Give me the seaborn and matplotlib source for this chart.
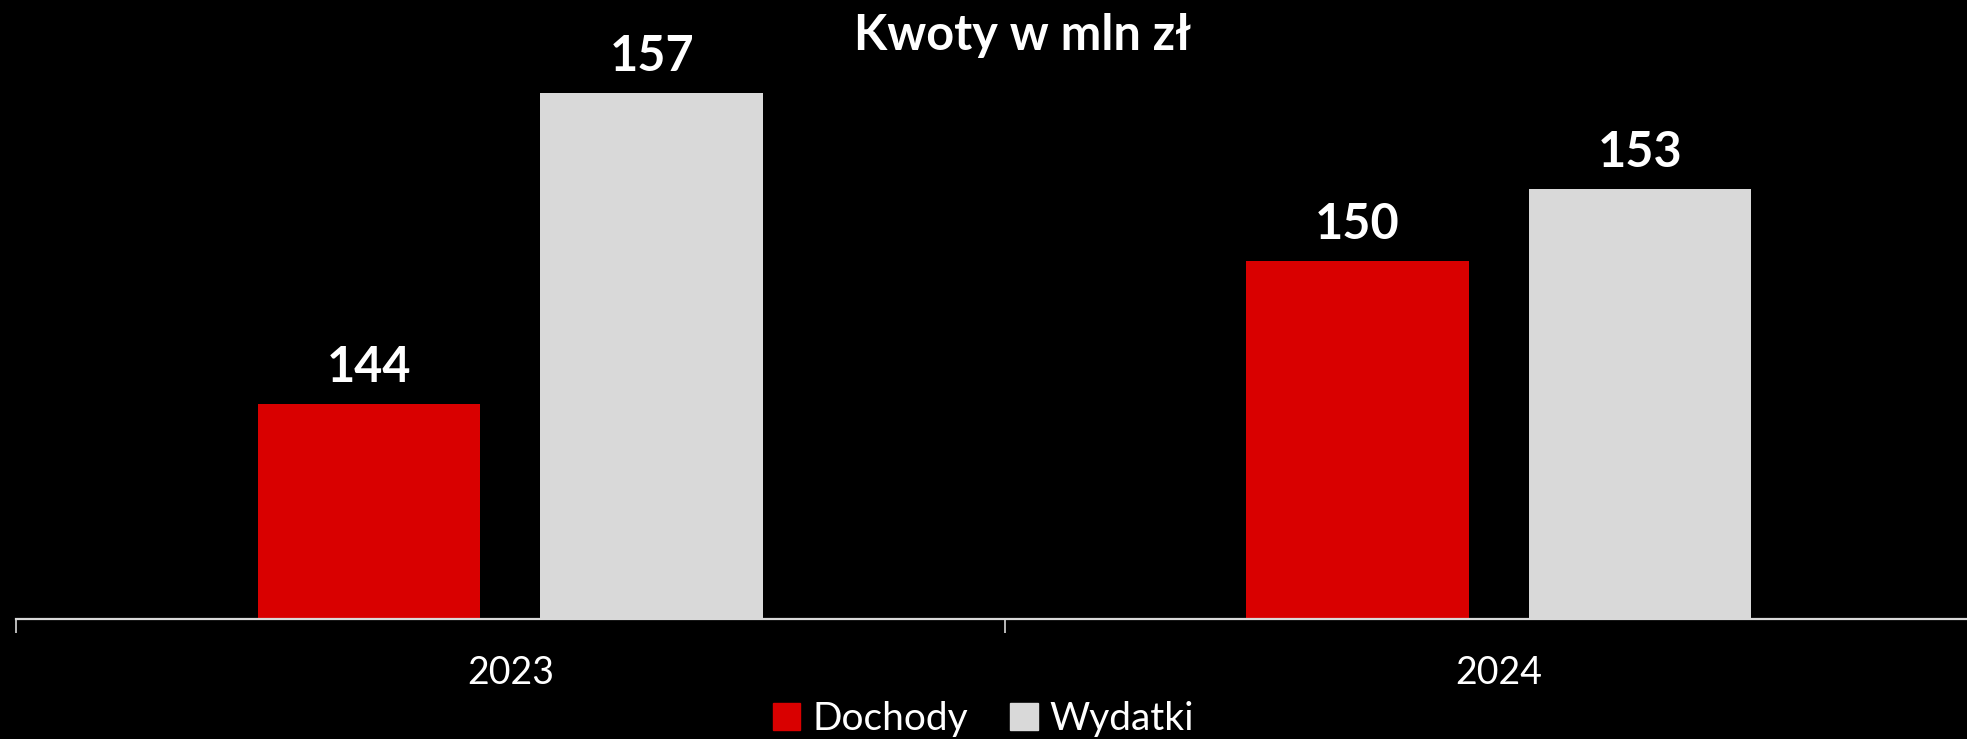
"""Dochody vs wydatki, kwoty w mln zl."""

import matplotlib

matplotlib.use("Agg")
import matplotlib.pyplot as plt
import pandas as pd
import seaborn as sns

YEARS = ["2023", "2024"]
SERIES = ["Dochody", "Wydatki"]
DOCHODY = [144, 150]
WYDATKI = [157, 153]
TITLE = "Kwoty w mln zł"

COLORS = {"Dochody": "#d90000", "Wydatki": "#d9d9d9"}
FONT = ["Lato", "DejaVu Sans"]


def main() -> None:
    df = pd.DataFrame(
        {
            "rok": YEARS * 2,
            "typ": [SERIES[0]] * len(YEARS) + [SERIES[1]] * len(YEARS),
            "kwota": DOCHODY + WYDATKI,
        }
    )

    sns.set_style("white")
    plt.rcParams["font.family"] = FONT

    fig = plt.figure(figsize=(19.67, 7.39), dpi=100, facecolor="black")
    ax = fig.add_axes([16 / 1967, 1 - 619 / 739, 1977 / 1967, 619 / 739])
    ax.set_facecolor("black")

    sns.barplot(
        data=df,
        x="rok",
        y="kwota",
        hue="typ",
        hue_order=SERIES,
        order=YEARS,
        palette=COLORS,
        width=0.572,
        gap=0.213,
        saturation=1,
        linewidth=0,
        edgecolor="none",
        ax=ax,
        legend=False,
    )

    for cont in ax.containers:
        ax.bar_label(
            cont,
            fmt="%d",
            padding=10,
            color="white",
            fontsize=35,
            fontweight="bold",
        )

    ax.set_xlim(-0.5, 1.5)
    ax.set_ylim(135, 160.9)
    ax.set_xlabel("")
    ax.set_ylabel("")
    ax.set_yticks([])
    for side in ["left", "right", "top"]:
        ax.spines[side].set_visible(False)
    ax.spines["bottom"].set_color("#d9d9d9")
    ax.spines["bottom"].set_linewidth(1.6)

    ax.tick_params(axis="x", which="major", length=0, pad=26,
                   labelsize=27, labelcolor="white")
    ax.set_xticks([-0.5, 0.5, 1.5], minor=True)
    ax.tick_params(axis="x", which="minor", bottom=True, length=10, width=1.2,
                   color="#d9d9d9", direction="out")

    fig.text(0.52, 0.952, TITLE, ha="center", va="center", color="white",
             fontsize=35, fontweight="bold")

    handles = [plt.Rectangle((0, 0), 1, 1, color=COLORS[s]) for s in SERIES]
    fig.legend(
        handles,
        SERIES,
        loc="center",
        bbox_to_anchor=(0.5, 1 - 719 / 739),
        ncol=2,
        frameon=False,
        fontsize=28,
        labelcolor="white",
        handlelength=0.7,
        handleheight=0.7,
        handletextpad=0.3,
        columnspacing=1.1,
        borderpad=0,
    )

    fig.savefig("out.png", dpi=100, facecolor="black")
    plt.close(fig)


if __name__ == "__main__":
    main()
